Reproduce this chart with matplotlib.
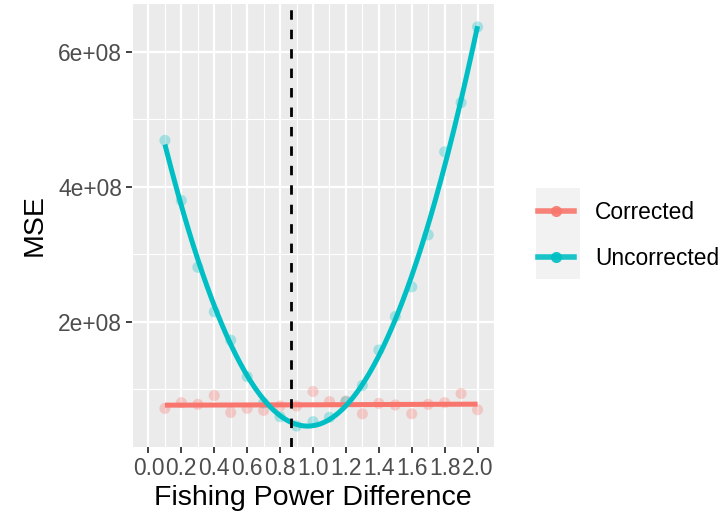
import numpy as np
import matplotlib
matplotlib.use("Agg")
import matplotlib.pyplot as plt
from matplotlib.lines import Line2D
from matplotlib.patches import Rectangle

plt.rcParams['font.family'] = ['Liberation Sans', 'DejaVu Sans']

# ---- data ----
fpd = [0.1, 0.2, 0.3, 0.4, 0.5, 0.6, 0.7, 0.8, 0.9, 1.0,
       1.1, 1.2, 1.3, 1.4, 1.5, 1.6, 1.7, 1.8, 1.9, 2.0]
mse_uncorrected = [4.69e8, 3.80e8, 2.81e8, 2.15e8, 1.73e8, 1.19e8, 8.0e7, 5.97e7, 4.59e7, 5.23e7,
                   5.88e7, 8.2e7, 1.06e8, 1.585e8, 2.08e8, 2.52e8, 3.29e8, 4.52e8, 5.25e8, 6.37e8]
mse_corrected = [7.2e7, 8.05e7, 7.8e7, 9.1e7, 6.6e7, 7.2e7, 6.9e7, 7.55e7, 7.55e7, 9.7e7,
                 8.2e7, 8.3e7, 6.4e7, 7.95e7, 7.7e7, 6.4e7, 7.8e7, 8.05e7, 9.4e7, 7.0e7]
optimum = 0.866
series_names = ["Corrected", "Uncorrected"]
x_ticks = [0.0, 0.2, 0.4, 0.6, 0.8, 1.0, 1.2, 1.4, 1.6, 1.8, 2.0]
x_tick_labels = ["0.0", "0.2", "0.4", "0.6", "0.8", "1.0", "1.2", "1.4", "1.6", "1.8", "2.0"]
y_ticks = [2e8, 4e8, 6e8]
y_tick_labels = ["2e+08", "4e+08", "6e+08"]

colors = {"Corrected": "#F8766D", "Uncorrected": "#00BFC4"}

W, H = 724, 517
fig = plt.figure(figsize=(W / 100, H / 100), dpi=100)
ax = fig.add_axes([132 / W, 1 - 447 / H, (494 - 132) / W, (447 - 4) / H])
ax.set_facecolor("#EBEBEB")
for s in ax.spines.values():
    s.set_visible(False)

x = np.array(fpd)
xs = np.linspace(min(fpd), max(fpd), 200)
for name, ys in zip(series_names, [mse_corrected, mse_uncorrected]):
    c = colors[name]
    ax.scatter(x, ys, s=64, color=c, alpha=0.3, edgecolors='none', zorder=3)
    coef = np.polyfit(x, np.array(ys), 2)
    ax.plot(xs, np.polyval(coef, xs), color=c, lw=3.6, zorder=4, solid_capstyle='butt')

ax.axvline(optimum, color='black', lw=2.0, linestyle=(0, (3.4, 3.6)), zorder=5)

ax.set_xlim(-0.1, 2.1)
ax.set_ylim(1.48e7, 6.71e8)
ax.set_xticks(x_ticks)
ax.set_xticklabels(x_tick_labels)
ax.set_xticks(np.arange(-0.1, 2.15, 0.2), minor=True)
ax.set_yticks(y_ticks)
ax.set_yticklabels(y_tick_labels)
ax.set_yticks([1e8, 3e8, 5e8], minor=True)
ax.grid(which='major', color='white', lw=1.6, zorder=0)
ax.grid(which='minor', color='white', lw=0.8, zorder=0)
ax.set_axisbelow(True)
ax.tick_params(which='major', length=4.5, width=1.3, color='#333333',
               labelsize=16.4, labelcolor='#4D4D4D', pad=2.5)
ax.tick_params(which='minor', length=0)

ax.set_xlabel("Fishing Power Difference", fontsize=20.5, color='black', labelpad=4)
ax.set_ylabel("MSE", fontsize=20.5, color='black', labelpad=8)

# legend key background
fig.patches.append(Rectangle((536 / W, 1 - 279 / H), (580 - 536) / W, (279 - 188) / H,
                             transform=fig.transFigure, facecolor='#F2F2F2',
                             edgecolor='none', zorder=0))
handles = [Line2D([], [], color=colors[n], lw=4, marker='o', markersize=8,
                  markerfacecolor=colors[n], markeredgecolor='none', alpha=0.9)
           for n in series_names]
leg = fig.legend(handles, series_names, loc='center left',
                 bbox_to_anchor=(533 / W, 1 - 235.5 / H), frameon=False,
                 fontsize=16.4, handlelength=1.62, handletextpad=0.9,
                 labelspacing=0.98, borderaxespad=0, borderpad=0.2)

fig.savefig("out.png", dpi=100)
